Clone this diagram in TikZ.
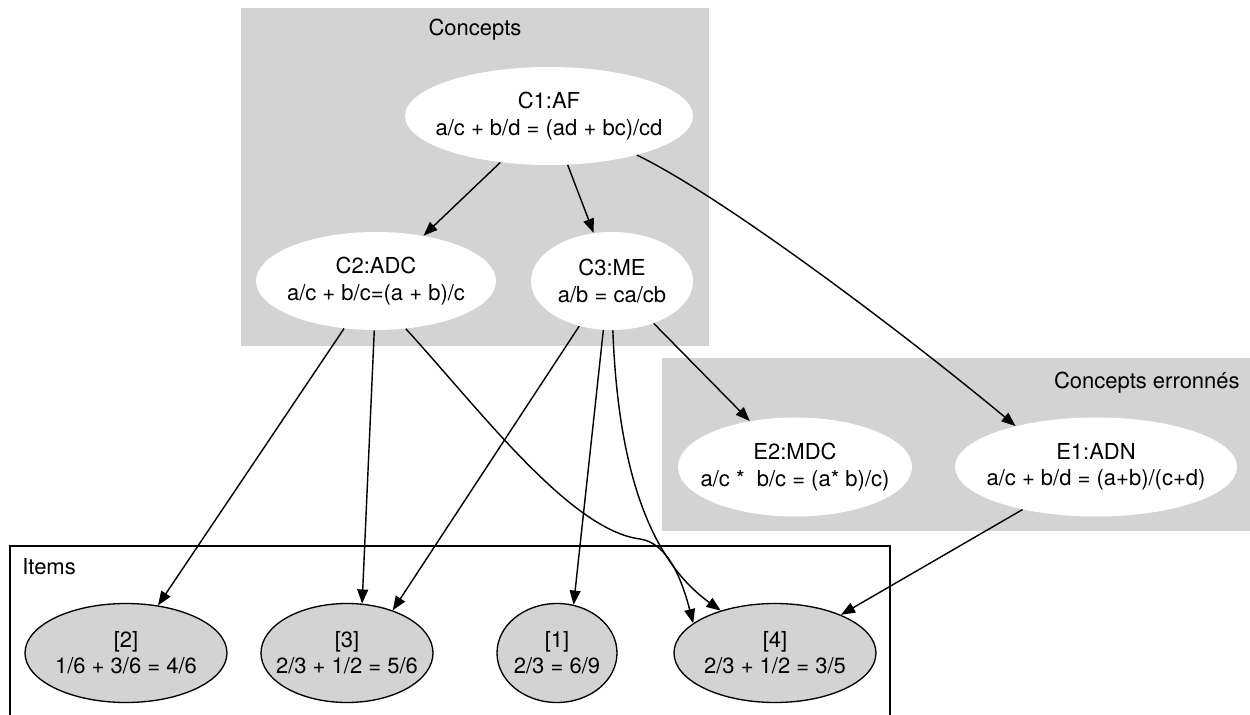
\documentclass[tikz,border=0pt]{standalone}
\usepackage{fontspec}
\setmainfont{TeX Gyre Heros}
\usetikzlibrary{shapes.geometric,arrows.meta}
\definecolor{clustergray}{HTML}{D3D3D3}
\tikzset{
  ell/.style={ellipse, inner sep=0pt},
  sz/.style 2 args={minimum width=#1*0.6pt, minimum height=#2*0.6pt},
  concept/.style={ell, fill=white, draw=none},
  item/.style={ell, fill=clustergray, draw=black, line width=0.8pt},
  txt/.style={align=center, inner sep=0pt, font=\fontsize{13.2}{15.8}\selectfont},
  clabel/.style={inner sep=0pt, font=\fontsize{13.2}{16}\selectfont},
  edge/.style={line width=0.85pt, -{Triangle[length=8.5pt, width=6.5pt]}}
}
\begin{document}
\begin{tikzpicture}[x=0.6pt, y=-0.6pt]
\useasboundingbox (0,0) rectangle (1250,715);
% clusters
\fill[clustergray] (241,8) rectangle (709,346);
\node[clabel] (lconcepts) at (475,30) {Concepts};
\fill[clustergray] (662,358) rectangle (1250,531);
\node[clabel, anchor=east] (lerr) at (1240,383) {Concepts erronnés};
\draw[line width=0.8pt] (10,720) -- (10,546) -- (890,546) -- (890,720);
\node[clabel, anchor=west] (litems) at (22,567) {Items};
% concept nodes
\node[concept, sz={288}{98}] (c1) at (549,116) {};
\node[txt] (c1t) at (c1) {C1:AF\\a/c + b/d = (ad + bc)/cd};
\node[concept, sz={240}{98}] (c2) at (376,281) {};
\node[txt] (c2t) at (c2) {C2:ADC\\a/c + b/c=(a + b)/c};
\node[concept, sz={162}{98}] (c3) at (612,281) {};
\node[txt] (c3t) at (c3) {C3:ME\\a/b = ca/cb};
\node[concept, sz={234}{99}] (e2) at (795,467) {};
\node[txt] (e2t) at (e2) {E2:MDC\\a/c * \ b/c = (a* b)/c)};
\node[concept, sz={282}{99}] (e1) at (1096,467) {};
\node[txt] (e1t) at (e1) {E1:ADN\\a/c + b/d = (a+b)/(c+d)};
% item nodes
\node[item, sz={202}{99}] (i2) at (126,653) {};
\node[txt] (i2t) at (i2) {[2]\\1/6 + 3/6 = 4/6};
\node[item, sz={172}{99}] (i3) at (347,653) {};
\node[txt] (i3t) at (i3) {[3]\\2/3 + 1/2 = 5/6};
\node[item, sz={120}{99}] (i1) at (557,653) {};
\node[txt] (i1t) at (i1) {[1]\\2/3 = 6/9};
\node[item, sz={202}{99}] (i4) at (775,653) {};
\node[txt] (i4t) at (i4) {[4]\\2/3 + 1/2 = 3/5};
% edges
\draw[edge] (c1) -- (c2);
\draw[edge] (c1) -- (c3);
\draw[edge] (c1.-24) .. controls (720,195) and (900,330) .. (e1.153);
\draw[edge] (c3) -- (e2);
\draw[edge] (c2) -- (i2);
\draw[edge] (c2.-92) -- (i3.73);
\draw[edge] (c2.-58) .. controls (480,410) and (570,530) .. (640,539) .. controls (668,543) and (682,580) .. (i4.160);
\draw[edge] (c3.-126) -- (i3.43);
\draw[edge] (c3.-100) -- (i1.71);
\draw[edge] (c3.-89) .. controls (618,470) and (650,560) .. (i4.142);
\draw[edge] (e1) -- (i4);
\end{tikzpicture}
\end{document}
